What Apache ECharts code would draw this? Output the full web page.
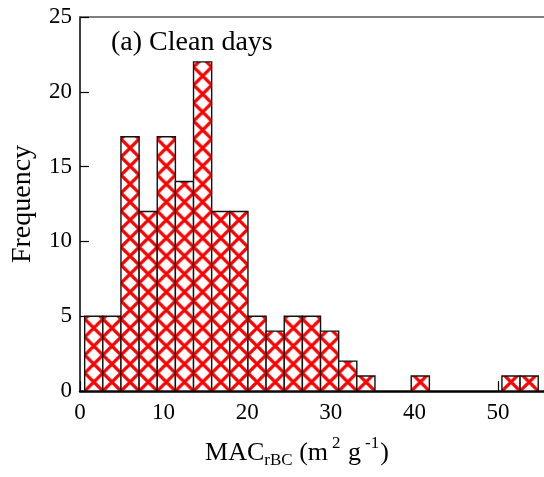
<!DOCTYPE html>
<html>
<head>
<meta charset="utf-8">
<script src="https://cdn.jsdelivr.net/npm/echarts@6/dist/echarts.min.js"></script>
<style>
  html, body { margin: 0; padding: 0; background: #fff; }
  #histChart { width: 544px; height: 477px; }
</style>
</head>
<body>
<div id="histChart"></div>
<script>
// histogram bins (MAC_rBC, m2 g-1)
const binStart = 0.56;
const binWidth = 2.17;
const counts = [5, 5, 17, 12, 17, 14, 22, 12, 12, 5, 4, 5, 5, 4, 2, 1, 0, 0, 1, 0, 0, 0, 0, 1, 1];

const xMin = 0;
const xMax = 55.5;
const yMin = 0;
const yMax = 25;

const serif = 'Liberation Serif';

// red cross-hatch tile
function makeHatch () {
  const size = 18;
  const cv = document.createElement('canvas');
  cv.width = size;
  cv.height = size;
  const ctx = cv.getContext('2d');
  ctx.fillStyle = '#fff';
  ctx.fillRect(0, 0, size, size);
  ctx.strokeStyle = '#ff0000';
  ctx.lineWidth = 3.2;
  ctx.beginPath();
  [-size, 0, size].forEach(function (off) {
    ctx.moveTo(off, 0);
    ctx.lineTo(off + size, size);
    ctx.moveTo(off + size, 0);
    ctx.lineTo(off, size);
  });
  ctx.stroke();
  return cv;
}
const hatch = makeHatch();

const binData = counts.map(function (c, i) {
  return [binStart + i * binWidth, binStart + (i + 1) * binWidth, c];
});

const myChart = echarts.init(document.getElementById('histChart'));
myChart.setOption({
  animation: false,
  title: {
    text: '(a) Clean days',
    left: 111,
    top: 29,
    padding: 0,
    textStyle: {
      fontFamily: serif,
      fontSize: 28,
      fontWeight: 'normal',
      color: '#000'
    }
  },
  grid: {
    left: 80,
    right: 0,
    top: 17,
    bottom: 86
  },
  xAxis: [{
    type: 'value',
    min: xMin,
    max: xMax,
    interval: 10,
    name: '{a|MAC}{sub|rBC}{a| (m}{sup|2}{a| g}{sup|-1}{a|)}',
    nameLocation: 'middle',
    nameGap: 44,
    nameTextStyle: {
      padding: [0, 30, 0, 0],
      rich: {
        a: { fontFamily: serif, fontSize: 26, color: '#000' },
        sub: { fontFamily: serif, fontSize: 17, color: '#000', padding: [15, 0, 0, 0] },
        sup: { fontFamily: serif, fontSize: 17, color: '#000', padding: [0, 1, 19, 4] }
      }
    },
    splitLine: { show: false },
    axisLine: { lineStyle: { color: '#000', width: 2.5 } },
    axisTick: { inside: true, length: 10, lineStyle: { color: '#000', width: 1.2 } },
    axisLabel: {
      margin: 10,
      fontFamily: serif,
      fontSize: 23,
      color: '#000',
      showMaxLabel: false
    }
  }, {
    type: 'value',
    position: 'top',
    min: xMin,
    max: xMax,
    axisLine: { show: true, lineStyle: { color: '#555', width: 1.5 } },
    axisTick: { show: false },
    axisLabel: { show: false },
    splitLine: { show: false }
  }],
  yAxis: {
    type: 'value',
    min: yMin,
    max: yMax,
    interval: 5,
    name: 'Frequency',
    nameLocation: 'middle',
    nameGap: 43,
    nameTextStyle: {
      fontFamily: serif,
      fontSize: 28,
      color: '#000'
    },
    splitLine: { show: false },
    axisLine: { show: true, lineStyle: { color: '#000', width: 1.5 } },
    axisTick: { inside: true, length: 9, lineStyle: { color: '#000', width: 1.2 } },
    axisLabel: {
      margin: 8,
      fontFamily: serif,
      fontSize: 23,
      color: '#000'
    }
  },
  series: [{
    type: 'custom',
    xAxisIndex: 0,
    encode: { x: [0, 1], y: 2 },
    data: binData,
    renderItem: function (params, api) {
      const h = api.value(2);
      if (!h) return null;
      const p0 = api.coord([api.value(0), h]);
      const p1 = api.coord([api.value(1), 0]);
      return {
        type: 'rect',
        shape: { x: p0[0], y: p0[1], width: p1[0] - p0[0], height: p1[1] - p0[1] },
        style: {
          fill: {
            image: hatch,
            repeat: 'repeat',
            x: p0[0],
            y: p1[1],
            scaleX: (p1[0] - p0[0]) / 18
          },
          stroke: '#111',
          lineWidth: 1.4
        }
      };
    }
  }]
});

window.addEventListener('resize', function () {
  myChart.resize();
});
</script>
</body>
</html>
